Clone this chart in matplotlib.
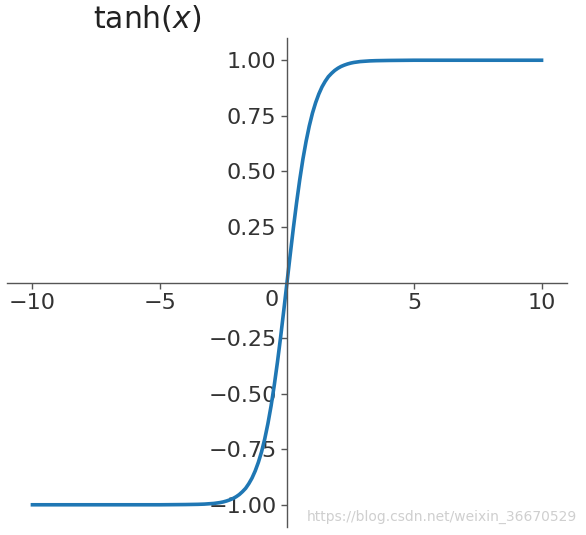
import matplotlib
matplotlib.use("Agg")
import matplotlib.pyplot as plt

x_vals = [-10, -5, -4, -3.5, -3.25, -3, -2.875, -2.75, -2.625, -2.5, -2.375, -2.25,
          -2.125, -2, -1.875, -1.75, -1.625, -1.5, -1.375, -1.25, -1.125, -1,
          -0.875, -0.75, -0.625, -0.5, -0.375, -0.25, -0.125, 0,
          0.125, 0.25, 0.375, 0.5, 0.625, 0.75, 0.875, 1, 1.125, 1.25, 1.375,
          1.5, 1.625, 1.75, 1.875, 2, 2.125, 2.25, 2.375, 2.5, 2.625, 2.75,
          2.875, 3, 3.25, 3.5, 4, 5, 10]
y_vals = [-1.0, -1.0, -0.999, -0.998, -0.997, -0.995, -0.994, -0.992, -0.990,
          -0.987, -0.983, -0.978, -0.972, -0.964, -0.954, -0.941, -0.926, -0.905,
          -0.880, -0.848, -0.809, -0.762, -0.704, -0.635, -0.555, -0.462, -0.358,
          -0.245, -0.124, 0.0,
          0.124, 0.245, 0.358, 0.462, 0.555, 0.635, 0.704, 0.762, 0.809, 0.848,
          0.880, 0.905, 0.926, 0.941, 0.954, 0.964, 0.972, 0.978, 0.983, 0.987,
          0.990, 0.992, 0.994, 0.995, 0.997, 0.998, 0.999, 1.0, 1.0]
x_ticks = [-10, -5, 5, 10]
x_tick_labels = ['\u221210', '\u22125', '5', '10']
y_ticks = [-1.0, -0.75, -0.5, -0.25, 0.25, 0.5, 0.75, 1.0]
y_tick_labels = ['\u22121.00', '\u22120.75', '\u22120.50', '\u22120.25',
                 '0.25', '0.50', '0.75', '1.00']

fig = plt.figure(figsize=(5.86, 5.35), dpi=100)
ax = fig.add_axes([7/586, 8/535, 560/586, 489/535])
ax.plot(x_vals, y_vals, color='#1f77b4', lw=2.6, solid_joinstyle='round')
ax.set_xlim(-11, 11)
ax.set_ylim(-1.1, 1.1)
ax.spines['left'].set_position(('data', 0))
ax.spines['bottom'].set_position(('data', 0))
ax.spines['right'].set_visible(False)
ax.spines['top'].set_visible(False)
for s in ('left', 'bottom'):
    ax.spines[s].set_color('#555555')
    ax.spines[s].set_linewidth(1.0)
ax.set_xticks(x_ticks)
ax.set_yticks(y_ticks)
ax.set_xticklabels(x_tick_labels)
ax.set_yticklabels(y_tick_labels)
ax.tick_params(labelsize=16, colors='#333333', length=4, width=1, color='#555555')
ax.text(-0.6, -0.035, '0', fontsize=16, color='#333333', ha='center', va='top')
ax.patch.set_alpha(0)

fig.text(147/586, 1 - 19/535, r'tanh($x$)', fontsize=21.5, color='#222222',
         ha='center', va='center')
fig.text(577/586, 1 - 517/535, 'https://blog.csdn.net/weixin_36670529',
         fontsize=10, color='#cfcfcf', ha='right', va='center')

fig.savefig('out.png', dpi=100)
